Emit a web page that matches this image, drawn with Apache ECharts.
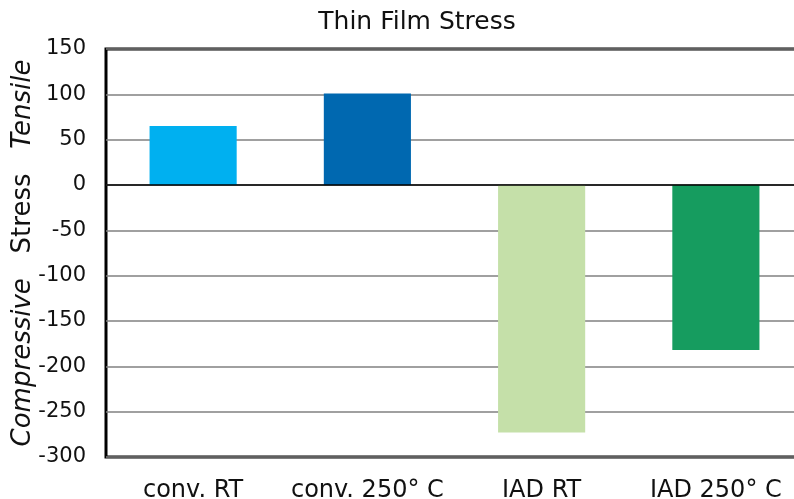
<!DOCTYPE html>
<html>
<head>
<meta charset="utf-8">
<script src="https://cdn.jsdelivr.net/npm/echarts@6/dist/echarts.min.js"></script>
<style>html,body{margin:0;padding:0;background:#fff;}#c{width:794px;height:499px;}</style>
</head>
<body>
<div id="c"></div>
<script>
const categories = ['conv. RT', 'conv. 250° C', 'IAD RT', 'IAD 250° C'];
const stressValues = [65, 101, -273, -182];
const barColors = ['#00B0F0', '#0068B0', '#C5E0A9', '#169C5F'];
const yTicks = { min: -300, max: 150, interval: 50 };

const chart = echarts.init(document.getElementById('c'), null, { renderer: 'canvas' });
chart.setOption({
  animation: false,
  backgroundColor: '#fff',
  textStyle: { fontFamily: 'DejaVu Sans' },
  title: {
    text: 'Thin Film Stress',
    left: 412, top: 5, textAlign: 'center',
    textStyle: { fontFamily: 'DejaVu Sans', fontSize: 25, fontWeight: 'normal', color: '#111' }
  },
  grid: {
    left: 106, width: 697, top: 49, bottom: 42,
    outerBoundsMode: 'none',
    containLabel: false,
    show: true, borderColor: '#000', borderWidth: 3, backgroundColor: 'transparent'
  },
  xAxis: {
    type: 'category',
    data: categories,
    axisLine: { show: false, onZero: false },
    axisTick: { show: false },
    axisLabel: { margin: 22, fontSize: 24, color: '#111', fontFamily: 'DejaVu Sans', interval: 0 },
    splitLine: { show: false }
  },
  yAxis: {
    type: 'value',
    min: yTicks.min, max: yTicks.max, interval: yTicks.interval,
    axisLine: { show: false },
    axisTick: { show: false },
    axisLabel: { margin: 20, fontSize: 21, color: '#111', fontFamily: 'DejaVu Sans' },
    splitLine: { lineStyle: { color: '#808080', width: 1.5 } },
    name: '{i|Compressive}{n|   Stress   }{i|Tensile}',
    nameLocation: 'middle',
    nameRotate: 90,
    nameGap: 70,
    nameMoveOverlap: false,
    nameTextStyle: {
      rich: {
        i: { fontSize: 26, fontStyle: 'italic', color: '#111', fontFamily: 'DejaVu Sans' },
        n: { fontSize: 26, color: '#111', fontFamily: 'DejaVu Sans' }
      }
    }
  },
  series: [{
    type: 'bar',
    barWidth: '50%',
    data: stressValues.map((v, i) => ({ value: v, itemStyle: { color: barColors[i] } })),
    markLine: {
      silent: true,
      symbol: 'none',
      label: { show: false },
      lineStyle: { color: '#000', width: 1.5, type: 'solid' },
      data: [{ yAxis: 0 }]
    }
  }]
});
</script>
</body>
</html>
